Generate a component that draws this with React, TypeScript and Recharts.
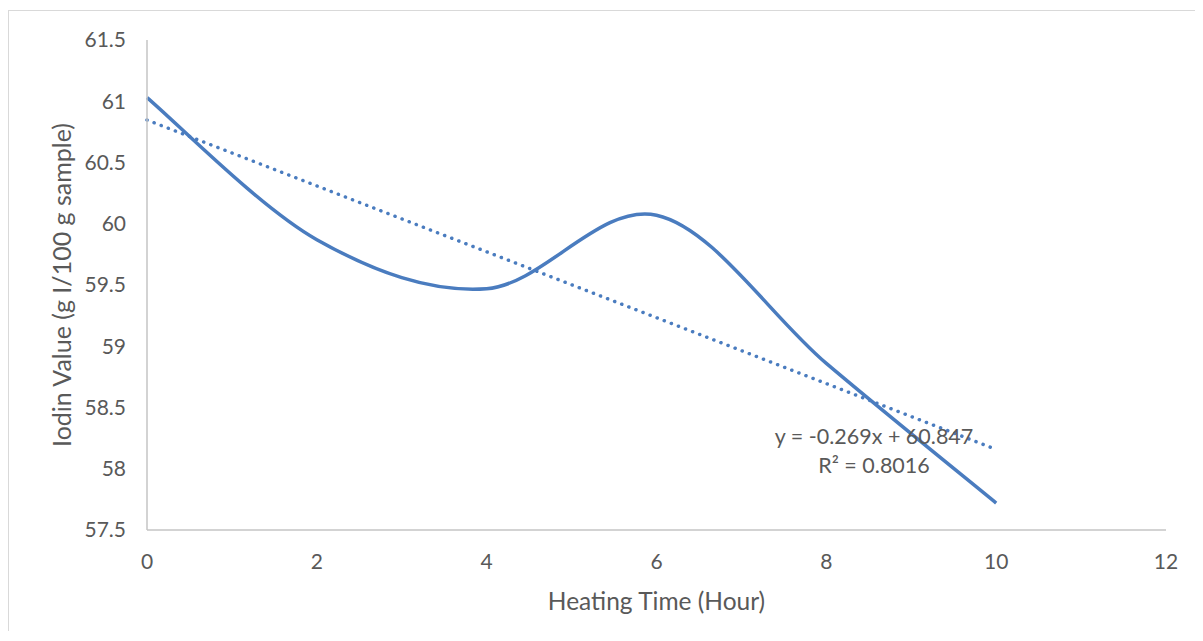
import { Line, LineChart, XAxis, YAxis } from "recharts";

const hours = [0, 2, 4, 6, 8, 10];
const iodinValues = [61.03, 59.87, 59.47, 60.07, 58.86, 57.72];

// linear trendline shown on the chart: y = -0.269x + 60.847
const trendHours = [0, 10];
const trendValues = [60.847, 58.157];

const xTicks = [0, 2, 4, 6, 8, 10, 12];
const yTicks = [57.5, 58, 58.5, 59, 59.5, 60, 60.5, 61, 61.5];

const series = hours.map((h, i) => ({ hour: h, value: iodinValues[i] }));
const trend = trendHours.map((h, i) => ({ hour: h, trend: trendValues[i] }));

const BLUE = "#4a7cbf";
const TEXT = "#595959";
const AXIS = "#c4c4c4";
const FONT = "Lato, 'Open Sans', sans-serif";

// smooth curve through the points, like Excel's "smoothed line"
function smoothCurve(context: any) {
  let pts: number[][] = [];
  return {
    areaStart() {},
    areaEnd() {},
    lineStart() {
      pts = [];
    },
    point(x: number, y: number) {
      pts.push([+x, +y]);
    },
    lineEnd() {
      if (!pts.length) return;
      context.moveTo(pts[0][0], pts[0][1]);
      for (let i = 0; i < pts.length - 1; i++) {
        const p0 = pts[i - 1] || pts[i];
        const p1 = pts[i];
        const p2 = pts[i + 1];
        const p3 = pts[i + 2] || pts[i + 1];
        context.bezierCurveTo(
          p1[0] + (p2[0] - p0[0]) / 6,
          p1[1] + (p2[1] - p0[1]) / 6,
          p2[0] - (p3[0] - p1[0]) / 6,
          p2[1] - (p3[1] - p1[1]) / 6,
          p2[0],
          p2[1]
        );
      }
    },
  };
}

export default function App() {
  return (
    <div style={{ position: "relative", paddingTop: 2, fontFamily: FONT }}>
      <div style={{ borderLeft: "1px solid #d9d9d9", borderTop: "1px solid #d9d9d9", width: 1186, height: 620 }}>
        <LineChart width={1185} height={620} margin={{ top: 29, right: 28, bottom: 0, left: 0 }}>
          <XAxis
            type="number"
            dataKey="hour"
            domain={[0, 12]}
            ticks={xTicks}
            allowDuplicatedCategory={false}
            height={101}
            stroke={AXIS}
            strokeWidth={1.5}
            tickLine={false}
            tickSize={6}
            tickMargin={18}
            tick={{ fill: TEXT, fontSize: 21, fontFamily: FONT }}
            label={{
              content: (props: any) => {
                const vb = props.viewBox || {};
                return (
                  <text
                    x={vb.x + vb.width / 2}
                    y={vb.y + 80}
                    textAnchor="middle"
                    fill={TEXT}
                    fontSize={24.5}
                    fontFamily={FONT}
                  >
                    Heating Time (Hour)
                  </text>
                );
              },
            }}
          />
          <YAxis
            type="number"
            domain={[57.5, 61.5]}
            ticks={yTicks}
            width={138}
            stroke={AXIS}
            strokeWidth={1.5}
            tickLine={false}
            tickSize={6}
            tickMargin={15}
            tick={{ fill: TEXT, fontSize: 21, fontFamily: FONT }}
            label={{
              content: (props: any) => {
                const vb = props.viewBox || {};
                const x = vb.x + 52;
                const y = vb.y + vb.height / 2;
                return (
                  <text
                    x={x}
                    y={y}
                    transform={`rotate(-90, ${x}, ${y})`}
                    textAnchor="middle"
                    dominantBaseline="central"
                    fill={TEXT}
                    fontSize={25}
                    fontFamily={FONT}
                  >
                    Iodin Value (g I/100 g sample)
                  </text>
                );
              },
            }}
          />
          <Line
            data={trend}
            dataKey="trend"
            type="linear"
            stroke={BLUE}
            strokeWidth={3.5}
            strokeDasharray="0.1 7.5"
            strokeLinecap="round"
            dot={false}
            activeDot={false}
            isAnimationActive={false}
          />
          <Line
            data={series}
            dataKey="value"
            type={smoothCurve as any}
            stroke={BLUE}
            strokeWidth={3.5}
            dot={false}
            activeDot={false}
            isAnimationActive={false}
          />
        </LineChart>
      </div>
      <div
        style={{
          position: "absolute",
          left: 874 - 8 - 150,
          top: 422 - 8,
          width: 300,
          textAlign: "center",
          color: TEXT,
          fontSize: 21.5,
          lineHeight: "29px",
        }}
      >
        <div>y = -0.269x + 60.847</div>
        <div>R² = 0.8016</div>
      </div>
    </div>
  );
}
